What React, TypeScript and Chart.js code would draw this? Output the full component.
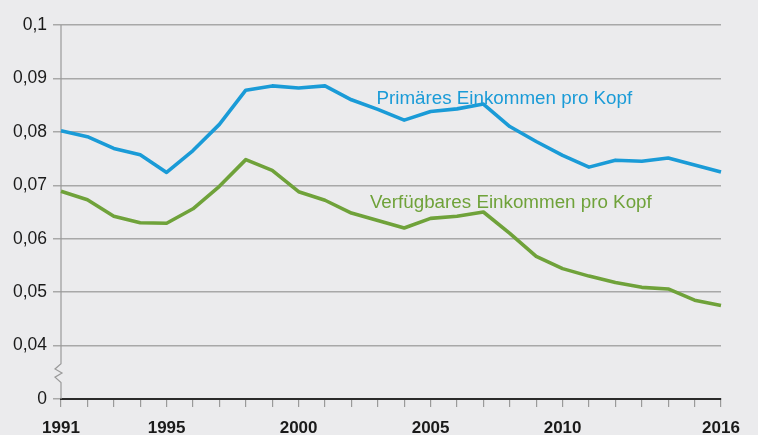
import React, { useEffect, useRef } from 'react';
import { Chart, registerables } from 'chart.js';

Chart.register(...registerables);

const years = [
  '1991', '1992', '1993', '1994', '1995', '1996', '1997', '1998', '1999', '2000',
  '2001', '2002', '2003', '2004', '2005', '2006', '2007', '2008', '2009', '2010',
  '2011', '2012', '2013', '2014', '2015', '2016',
];

const primaryIncome = [
  0.0802, 0.0791, 0.0769, 0.0757, 0.0724, 0.0765, 0.0814, 0.0878, 0.0886, 0.0882,
  0.0886, 0.0860, 0.0842, 0.0822, 0.0838, 0.0843, 0.0852, 0.0810, 0.0782, 0.0756,
  0.0734, 0.0747, 0.0745, 0.0751, 0.0738, 0.0725,
];

const disposableIncome = [
  0.0689, 0.0673, 0.0642, 0.0630, 0.0629, 0.0656, 0.0698, 0.0748, 0.0728, 0.0688,
  0.0672, 0.0648, 0.0634, 0.0620, 0.0638, 0.0642, 0.0650, 0.0610, 0.0567, 0.0544,
  0.0530, 0.0518, 0.0509, 0.0506, 0.0485, 0.0475,
];

const seriesNames = ['Primäres Einkommen pro Kopf', 'Verfügbares Einkommen pro Kopf'];
const labelledYears = ['1991', '1995', '2000', '2005', '2010', '2016'];
// label anchors in data coordinates: [category index, value]
const labelAnchors = [
  [11.95, 0.0853],
  [11.7, 0.0657],
];

const BLUE = '#1a9bd7';
const GREEN = '#6fa23a';
const BG = '#ebebed';
const GRID = '#a8a8a8';
const FONT = "'Liberation Sans', Arial, Helvetica, sans-serif";

const decor = {
  id: 'decor',
  beforeDraw(chart: any) {
    const { ctx, width, height } = chart;
    ctx.save();
    ctx.fillStyle = BG;
    ctx.fillRect(0, 0, width, height);
    ctx.restore();
  },
  beforeDatasetsDraw(chart: any) {
    const { ctx, chartArea } = chart;
    const y = chart.scales.y;
    const ax = chartArea.left;
    const top = y.getPixelForValue(0.1);
    const bottom = y.getPixelForValue(0.03);
    const b1 = y.getPixelForValue(0.0366);
    const b2 = y.getPixelForValue(0.0331);
    const h = b2 - b1;
    ctx.save();
    ctx.strokeStyle = '#9a9a9a';
    ctx.lineWidth = 1.2;
    ctx.beginPath();
    ctx.moveTo(ax, top);
    ctx.lineTo(ax, b1);
    ctx.lineTo(ax - 6, b1 + h * 0.28);
    ctx.lineTo(ax + 1, b1 + h * 0.5);
    ctx.lineTo(ax - 6, b1 + h * 0.72);
    ctx.lineTo(ax, b2);
    ctx.lineTo(ax, bottom);
    ctx.stroke();
    ctx.restore();
  },
  afterDatasetsDraw(chart: any) {
    const { ctx } = chart;
    const x = chart.scales.x;
    const y = chart.scales.y;
    const colors = [BLUE, GREEN];
    ctx.save();
    ctx.font = `18.8px ${FONT}`;
    ctx.textAlign = 'left';
    ctx.textBaseline = 'alphabetic';
    seriesNames.forEach((name, i) => {
      const [ix, v] = labelAnchors[i];
      ctx.fillStyle = colors[i];
      ctx.fillText(name, x.getPixelForValue(ix), y.getPixelForValue(v));
    });
    ctx.restore();
  },
};

export default function App() {
  const canvasRef = useRef<HTMLCanvasElement | null>(null);

  useEffect(() => {
    document.body.style.margin = '0';
    document.body.style.background = BG;
    const canvas = canvasRef.current;
    if (!canvas) return;
    const chart = new Chart(canvas, {
      type: 'line',
      data: {
        labels: years,
        datasets: [
          {
            label: seriesNames[0],
            data: primaryIncome,
            borderColor: BLUE,
            borderWidth: 3.6,
            pointRadius: 0,
            tension: 0,
            fill: false,
            borderJoinStyle: 'round',
          },
          {
            label: seriesNames[1],
            data: disposableIncome,
            borderColor: GREEN,
            borderWidth: 3.6,
            pointRadius: 0,
            tension: 0,
            fill: false,
            borderJoinStyle: 'round',
          },
        ],
      },
      options: {
        responsive: false,
        animation: false,
        devicePixelRatio: 1,
        layout: { padding: { top: 25, right: 37, left: 0, bottom: 0 } },
        plugins: {
          legend: { display: false },
          tooltip: { enabled: false },
        },
        scales: {
          x: {
            type: 'category',
            offset: false,
            border: { display: true, color: '#2a2a2a', width: 2 },
            grid: {
              drawOnChartArea: false,
              drawTicks: true,
              tickLength: 8,
              color: '#9a9a9a',
              lineWidth: 1.2,
            },
            ticks: {
              autoSkip: false,
              maxRotation: 0,
              padding: 11,
              color: '#1a1a1a',
              font: { family: FONT, size: 17, weight: 'bold' },
              callback: (_v: any, i: number) =>
                labelledYears.includes(years[i]) ? years[i] : '',
            },
            afterFit: (s: any) => {
              s.height = 36;
            },
          },
          y: {
            type: 'linear',
            min: 0.03,
            max: 0.1,
            border: { display: false },
            grid: {
              drawTicks: true,
              tickLength: 8,
              color: GRID,
              lineWidth: 1.5,
            },
            ticks: {
              stepSize: 0.01,
              padding: 6,
              color: '#1a1a1a',
              font: { family: FONT, size: 17.5 },
              callback: (v: any) => {
                const n = Number(v);
                if (n < 0.035) return '0';
                return String(Number(n.toFixed(2))).replace('.', ',');
              },
            },
            afterFit: (s: any) => {
              s.width = 61;
            },
          },
        },
      },
      plugins: [decor],
    });
    return () => chart.destroy();
  }, []);

  return (
    <div style={{ position: 'fixed', left: 0, top: 0, width: 758, height: 435, background: BG }}>
      <canvas ref={canvasRef} width={758} height={435} style={{ display: 'block' }} />
    </div>
  );
}
